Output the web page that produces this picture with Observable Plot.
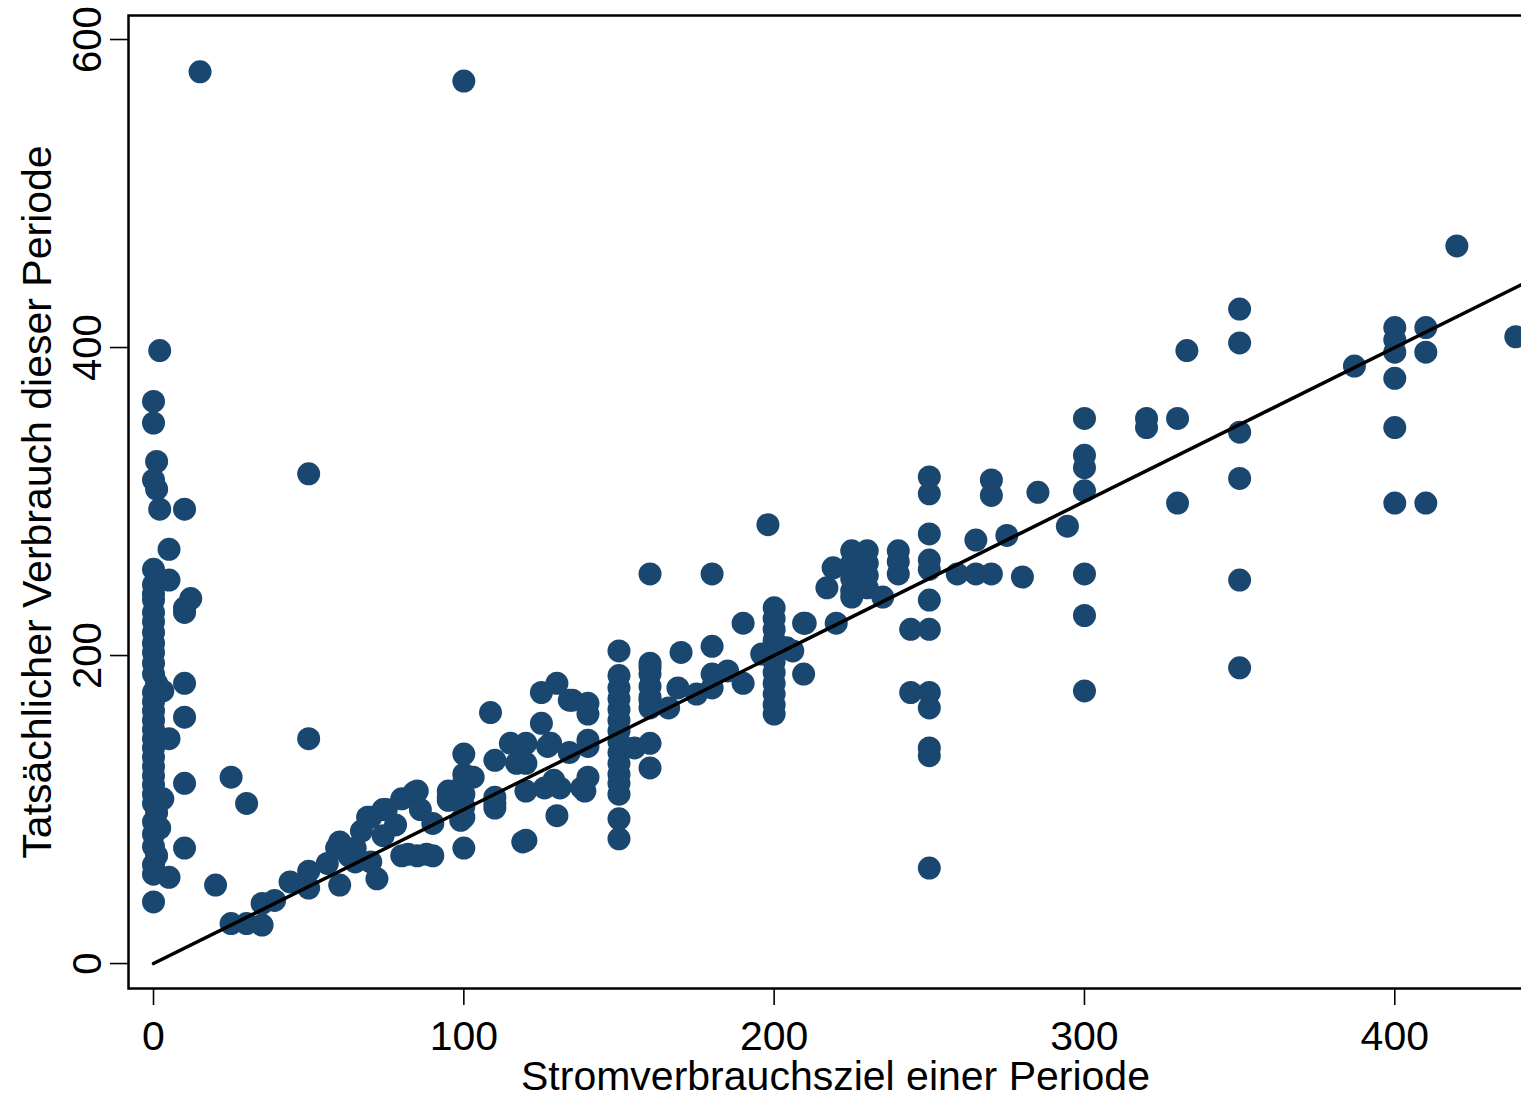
<!DOCTYPE html>
<html>
<head>
<meta charset="utf-8">
<script src="https://cdn.jsdelivr.net/npm/d3@7"></script>
<script src="https://cdn.jsdelivr.net/npm/@observablehq/plot@0.6"></script>
<style>
  html, body { margin: 0; padding: 0; background: white; overflow: hidden; }
</style>
</head>
<body>
<div id="chart"></div>
<script>
// Stromverbrauchsziel (x) und tatsächlicher Verbrauch (y)
const ziel = [
  2,0,0,1,0,1,2,10,5,0,5,0,0,0,12,10,10,0,0,0,0,0,0,0,1,3,0,0,0,0,0,0,5,0,0,0,0,0,0,3,0,1,0,2,0,0,1,0,0,5,0,10,10,10,10,25,30,20,50,50,15,100,
  25,30,35,35,39,44,50,50,56,60,60,59,65,63,65,67,69,70,72,74,75,80,84,80,85,90,82,88,90,86,95,95,95,85,99,100,110,119,74,70,78,
  100,100,103,100,100,100,100,108.6,110,110,110,115,117,120,120,120,120,125,125,126,127,128,129,130,130,131,134,134,135,138,139,140,140,140,140,140,150,150,150,150,150,150,150,150,150,150,150,150,150,150,150,155,160,160,160,160,160,160,160,160,160,160,166,169,170,175,180,180,180,180,185,190,190,196,
  198,200,200,200,200,200,200,200,200,200,200,200,204,206,209.5,209.5,210,217,219,220,225,225,225,225,225,230,230,230,230,235,240,240,240,244,244,250,250,250,250,250,250,250,250,250,250,250,250,
  259,265,265,270,270,270,275,280,285,294.5,300,300,300,300,300,300,300,320,320,330,330,333,350,350,350,350,350,350,387,400,400,400,400,400,400,410,410,410,420,439
];
const verbrauch = [
  398,365,351,326,314,308,295,295,269,256,249,246,240,236,237,231,228,228,222,215,208,202,195,188,182,177,176,170,164,158,152,146,146,140,134,128,122,116,110,107,104,98,92,88,84,76,70,64,58,56,40,182,160,117,75,121,104,51,318,146,579,573,
  26,26,25,39,41,53,60,49,65,51,79,75,75,70,66,86,95,66,55,83,100,107,111,70,70,70,71,71,91,100,108,112,106,112,93,75,104,79,100,95,90,
  136,123,121,118,110,102,95,163,132,108,101,143,130,143,130,112,80,176,156,114,141,143,119,182,96,114,171,137,171,114,112,169,162,145,141,121,203,187,179,172,165,158,151,144,137,130,123,117,110,94,81,140,253,195,192,188,180,173,171,166,143,127,166,179,202,175,253,206,188,179,190,221,182,201,
  285,231,224,217,210,203,196,189,182,175,168,162,205,203,221,188,221,244,257,221,268,260,250,242,238,268,260,252,244,238,268,261,253,217,176,316,305,279,262,256,236,217,176,166,140,135,62,
  253,275,253,314,304,253,278,251,306,284,354,330,322,307,253,226,177,354,348,354,299,398,425,403,345,315,249,192,388,413,405,397,380,348,299,413,397,299,466,407
];
const xTicks = [0, 100, 200, 300, 400];
const yTicks = [0, 200, 400, 600];
const xTitle = "Stromverbrauchsziel einer Periode";
const yTitle = "Tatsächlicher Verbrauch dieser Periode";

const points = ziel.map((x, i) => ({x, y: verbrauch[i]}));
const xDomain = [-8.06, 447.6];
const yDomain = [-16.2, 615.6];
const diagonal = [0, xDomain[1] - 2].map(v => ({x: v, y: v}));

const chart = Plot.plot({
  width: 1542,
  height: 1100,
  marginLeft: 128,
  marginRight: 0,
  marginTop: 15,
  marginBottom: 112,
  style: {fontFamily: "'Liberation Sans', Arial, sans-serif", fontSize: "41px", color: "black", background: "white", maxWidth: "none"},
  x: {domain: xDomain},
  y: {domain: yDomain},
  marks: [
    Plot.dot(points, {x: "x", y: "y", r: 11.5, fill: "#1a476f", stroke: "none"}),
    Plot.line(diagonal, {x: "x", y: "y", stroke: "black", strokeWidth: 3.5}),
    Plot.frame({stroke: "black", strokeWidth: 2.5}),
    Plot.axisX(xTicks, {tickSize: 17, tickPadding: 15, fontSize: 41, strokeWidth: 1.6, label: null}),
    Plot.axisY(yTicks, {tickSize: 18, tickPadding: 10, tickRotate: -90, fontSize: 40, strokeWidth: 1.6, label: null}),
    Plot.text([xTitle], {text: d => d, frameAnchor: "bottom", dy: 88, fontSize: 41, textAnchor: "middle", lineAnchor: "middle", fill: "black"}),
    Plot.text([yTitle], {text: d => d, frameAnchor: "left", dx: -91, rotate: -90, fontSize: 41, textAnchor: "middle", lineAnchor: "middle", fill: "black"})
  ]
});
document.getElementById("chart").appendChild(chart);
</script>
</body>
</html>
